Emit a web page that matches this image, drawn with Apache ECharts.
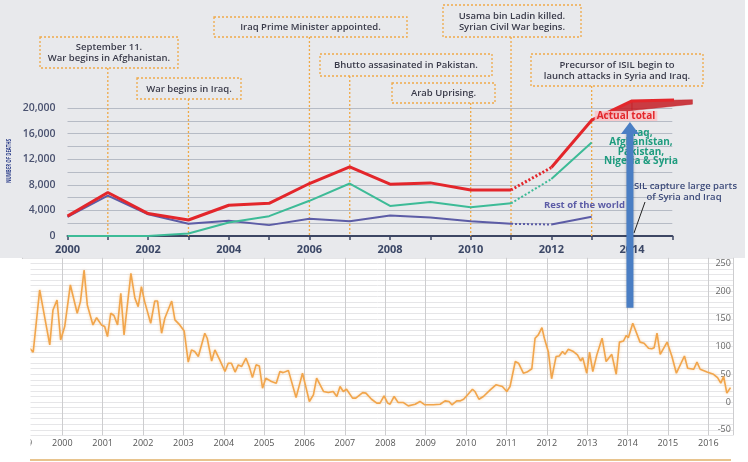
<!DOCTYPE html>
<html>
<head>
<meta charset="utf-8">
<script src="https://cdn.jsdelivr.net/npm/echarts@6/dist/echarts.min.js"></script>
<style>
  html, body { margin: 0; padding: 0; background: #fff; }
  #chart { width: 748px; height: 462px; }
</style>
</head>
<body>
<div id="chart"></div>
<script>
// top panel: deaths per year (number of deaths)
const years = [2000, 2001, 2002, 2003, 2004, 2005, 2006, 2007, 2008, 2009, 2010, 2011, 2012, 2013]
const totalDeaths = [3100, 6800, 3500, 2500, 4800, 5100, 8200, 10800, 8100, 8300, 7200, 7200, 10700, 18100]
const fiveCountries = [0, 0, 0, 400, 2100, 3100, 5500, 8200, 4700, 5300, 4500, 5100, 8900, 14600]
const restOfWorld = [3000, 6300, 3400, 1900, 2400, 1700, 2700, 2300, 3200, 2900, 2300, 1900, 1800, 3000]
// projected part of the total (after 2013)
const tailYears = [2014, 2015.5]
const tailTotal = [21100, 21300]
// shaded wedge under the total
const bandYears = [2013, 2014, 2015.5]
const bandLow = [18100, 19600, 20600]
const bandHigh = [18100, 21100, 21300]
// dotted stretch of every line
const gapFrom = 2011
const gapTo = 2012

// events
const eventYears = [2001, 2003, 2006, 2007, 2010, 2011, 2013]
const eventText = [
  'September 11.\nWar begins in Afghanistan.',
  'War begins in Iraq.',
  'Iraq Prime Minister appointed.',
  'Bhutto assasinated in Pakistan.',
  'Arab Uprising.',
  'Usama bin Ladin killed.\nSyrian Civil War begins.',
  'Precursor of ISIL begin to\nlaunch attacks in Syria and Iraq.'
]

// bottom panel: index over time
const indexDates = [
  1999.19, 1999.28, 1999.44, 1999.69, 1999.77, 1999.87, 1999.96, 2000.06, 2000.20, 2000.37,
  2000.45, 2000.54, 2000.62, 2000.76, 2000.85, 2000.97, 2001.05, 2001.12, 2001.20, 2001.28,
  2001.37, 2001.45, 2001.53, 2001.70, 2001.80, 2001.88, 2001.96, 2002.04, 2002.19, 2002.29,
  2002.36, 2002.46, 2002.54, 2002.71, 2002.79, 2002.91, 2003.02, 2003.12, 2003.20, 2003.28,
  2003.37, 2003.53, 2003.59, 2003.70, 2003.78, 2003.90, 2004.03, 2004.11, 2004.19, 2004.28,
  2004.36, 2004.44, 2004.55, 2004.63, 2004.71, 2004.80, 2004.88, 2004.96, 2005.04, 2005.18,
  2005.30, 2005.39, 2005.47, 2005.60, 2005.79, 2005.95, 2006.12, 2006.22, 2006.30, 2006.47,
  2006.59, 2006.71, 2006.80, 2006.88, 2006.96, 2007.04, 2007.19, 2007.27, 2007.44, 2007.52,
  2007.66, 2007.79, 2007.87, 2007.97, 2008.06, 2008.12, 2008.22, 2008.32, 2008.45, 2008.57,
  2008.74, 2008.86, 2008.98, 2009.19, 2009.36, 2009.48, 2009.58, 2009.65, 2009.77, 2009.85,
  2009.94, 2010.04, 2010.16, 2010.22, 2010.32, 2010.43, 2010.60, 2010.74, 2010.90, 2011.01,
  2011.09, 2011.22, 2011.30, 2011.42, 2011.51, 2011.63, 2011.71, 2011.79, 2011.88, 2011.94,
  2012.04, 2012.12, 2012.23, 2012.31, 2012.39, 2012.45, 2012.53, 2012.66, 2012.76, 2012.84,
  2012.89, 2012.99, 2013.06, 2013.14, 2013.24, 2013.37, 2013.47, 2013.61, 2013.72, 2013.80,
  2013.90, 2013.97, 2014.02, 2014.13, 2014.31, 2014.41, 2014.52, 2014.60, 2014.66, 2014.73,
  2014.81, 2014.98, 2015.10, 2015.21, 2015.41, 2015.49, 2015.64, 2015.72, 2015.80, 2015.97,
  2016.13, 2016.23, 2016.31, 2016.38, 2016.46, 2016.55
]
const indexValues = [
  97, 90, 202, 103, 166, 184, 112, 136, 211, 160,
  181, 238, 175, 139, 152, 139, 136, 118, 160, 156,
  139, 196, 121, 232, 187, 172, 208, 181, 142, 182,
  182, 124, 151, 182, 148, 139, 128, 72, 94, 91,
  82, 124, 115, 74, 94, 76, 55, 70, 70, 54,
  67, 64, 79, 64, 44, 67, 65, 25, 43, 37,
  34, 55, 53, 57, 8, 52, 1, 13, 43, 19,
  17, 19, 10, 28, 19, 23, 7, 7, 17, 16,
  5, -2, -2, 11, -2, -4, 10, -1, -1, -7,
  -4, 1, -5, -5, -4, 2, 1, -5, 2, 2,
  5, 13, 23, 19, 5, 10, 22, 31, 28, 19,
  28, 73, 70, 52, 54, 60, 115, 121, 134, 115,
  90, 42, 82, 83, 91, 86, 95, 91, 85, 74,
  80, 52, 90, 55, 85, 115, 73, 86, 50, 108,
  110, 120, 116, 142, 108, 106, 97, 96, 98, 124,
  86, 108, 82, 52, 83, 61, 59, 72, 59, 54,
  50, 44, 34, 46, 16, 26
]

const FONT = '"Open Sans", "DejaVu Sans", sans-serif'
const RED = '#e3262b'
const GREEN = '#3dbb97'
const PURPLE = '#5c5ca6'

const chart = echarts.init(document.getElementById('chart'))

// solid line with a hole between gapFrom and gapTo
const solidLine = (vals) => {
  const pts = []
  years.forEach((y, i) => {
    if (y === gapTo) pts.push([(gapFrom + gapTo) / 2, '-'])
    pts.push([y, vals[i]])
  })
  return pts
}
const dottedLine = (vals) => [
  [gapFrom, vals[years.indexOf(gapFrom)]],
  [gapTo, vals[years.indexOf(gapTo)]]
]

const topLine = (name, data, color, width, dotted) => ({
  name,
  type: 'line',
  xAxisIndex: 0,
  yAxisIndex: 0,
  data,
  symbol: 'none',
  clip: false,
  silent: true,
  lineStyle: { color, width, type: dotted ? [2, 2] : 'solid' },
  z: 5
})

// one quad per pair of neighbouring band points
const bandData = []
for (let i = 0; i < bandYears.length - 1; i++) {
  bandData.push([bandYears[i], bandLow[i], bandHigh[i], bandYears[i + 1], bandLow[i + 1], bandHigh[i + 1]])
}

const option = {
  animation: false,
  backgroundColor: '#fff',
  textStyle: { fontFamily: FONT },
  grid: [
    { left: 67.5, top: 108, width: 604.8, height: 128 },
    { left: 21.9, top: 257.8, width: 711, height: 177.5 }
  ],
  xAxis: [
    {
      gridIndex: 0,
      type: 'value',
      min: 2000,
      max: 2015,
      interval: 1,
      axisLine: { lineStyle: { color: '#3d4663', width: 2 } },
      axisTick: { show: true, length: 4, lineStyle: { color: '#3d4663', width: 1.5 } },
      splitLine: { show: false },
      axisLabel: {
        margin: 8,
        color: '#3b4766',
        fontSize: 11,
        fontWeight: 'bold',
        fontFamily: FONT,
        formatter: (v) => (Number.isInteger(v) && v % 2 === 0 ? String(v) : '')
      }
    },
    {
      gridIndex: 1,
      type: 'value',
      min: 1999,
      max: 2016.61,
      interval: 1,
      axisLine: { show: false },
      axisTick: { show: false },
      splitLine: { show: true, lineStyle: { color: '#cdcdcf', width: 1 } },
      axisLabel: {
        margin: 4,
        color: '#555',
        fontSize: 9,
        fontFamily: FONT,
        formatter: (v) => (Number.isInteger(v) ? String(v) : '')
      }
    }
  ],
  yAxis: [
    {
      gridIndex: 0,
      type: 'value',
      min: 0,
      max: 20000,
      interval: 2000,
      axisLine: { show: false },
      axisTick: { show: false },
      splitLine: { lineStyle: { color: '#b6bbc5', width: 1.2 } },
      axisLabel: {
        margin: 12,
        color: '#4a5270',
        fontSize: 10.5,
        fontWeight: 600,
        fontFamily: FONT,
        formatter: (v) => (v % 4000 === 0 ? v.toLocaleString('en-US') : '')
      }
    },
    {
      gridIndex: 1,
      type: 'value',
      position: 'right',
      min: -60,
      max: 260,
      interval: 10,
      axisLine: { show: false },
      axisTick: { show: false },
      splitLine: { lineStyle: { color: '#e6e6e8', width: 1 } },
      axisLabel: {
        inside: true,
        margin: 2,
        color: '#666',
        fontSize: 9,
        fontFamily: FONT,
        formatter: (v) => (v % 50 === 0 ? String(v) : '')
      }
    }
  ],
  series: [
    {
      name: 'band',
      type: 'custom',
      xAxisIndex: 0,
      yAxisIndex: 0,
      clip: false,
      silent: true,
      data: bandData,
      encode: { x: [0, 3], y: [1, 2, 4, 5] },
      renderItem: (params, api) => {
        const a = api.coord([api.value(0), api.value(1)])
        const b = api.coord([api.value(0), api.value(2)])
        const c = api.coord([api.value(3), api.value(5)])
        const d = api.coord([api.value(3), api.value(4)])
        return {
          type: 'polygon',
          shape: { points: [a, b, c, d] },
          style: { fill: 'rgba(196,28,36,0.85)', stroke: 'rgba(196,28,36,0.85)', lineWidth: 0.5 }
        }
      },
      z: 3
    },
    topLine('Rest of the world', solidLine(restOfWorld), PURPLE, 2, false),
    topLine('Rest of the world (dotted)', dottedLine(restOfWorld), PURPLE, 2, true),
    topLine('Five countries', solidLine(fiveCountries), GREEN, 2, false),
    topLine('Five countries (dotted)', dottedLine(fiveCountries), GREEN, 2, true),
    topLine('Actual total', solidLine(totalDeaths).concat(tailYears.map((y, i) => [y, tailTotal[i]])), RED, 3, false),
    topLine('Actual total (dotted)', dottedLine(totalDeaths), RED, 3, true),
    {
      name: 'index',
      type: 'line',
      xAxisIndex: 1,
      yAxisIndex: 1,
      data: indexDates.map((d, i) => [d, indexValues[i]]),
      symbol: 'none',
      silent: true,
      lineStyle: {
        color: '#f1a54b',
        width: 1.6,
        shadowBlur: 3,
        shadowColor: 'rgba(241,165,75,0.45)'
      },
      z: 4
    }
  ]
}

chart.setOption(option)

// ---- annotations (placed after the scales exist) ----
const boxes = [
  [40, 37, 138, 31],
  [137, 78, 104, 21],
  [214, 17, 193, 20],
  [320, 54, 172, 22],
  [392, 83, 103, 20],
  [443, 5, 138, 32],
  [531, 54, 172, 32]
]
const axisY = chart.convertToPixel({ gridIndex: 0 }, [2000, 0])[1]

const graphics = [
  // grey panel behind the upper chart
  { type: 'rect', shape: { x: 0, y: 0, width: 745, height: 258 }, style: { fill: '#e8e9ec' }, z: -10, silent: true },
  // white margin on the left of the lower chart
  { type: 'rect', shape: { x: 0, y: 259, width: 30.5, height: 195 }, style: { fill: '#fff' }, z: 50, silent: true },
  // rule under the lower chart
  { type: 'line', shape: { x1: 30, y1: 460, x2: 731, y2: 460 }, style: { stroke: '#e8c48e', lineWidth: 2 }, z: 50, silent: true },
  {
    type: 'text',
    x: 9,
    y: 161,
    rotation: Math.PI / 2,
    scaleX: 0.62,
    style: {
      text: 'NUMBER OF DEATHS',
      fill: '#2d3f8a',
      font: 'bold 7px ' + FONT,
      align: 'center',
      verticalAlign: 'middle'
    },
    silent: true
  }
]

eventYears.forEach((yr, i) => {
  const [bx, by, bw, bh] = boxes[i]
  const px = chart.convertToPixel({ gridIndex: 0 }, [yr, 0])[0]
  graphics.push({
    type: 'line',
    shape: { x1: px, y1: by + bh, x2: px, y2: axisY },
    style: { stroke: '#efa948', lineWidth: 1.3, lineDash: [2, 2] },
    z: 1,
    silent: true
  })
  graphics.push({
    type: 'rect',
    shape: { x: bx, y: by, width: bw, height: bh },
    style: { fill: 'rgba(0,0,0,0)', stroke: '#efa948', lineWidth: 1.3, lineDash: [2, 2] },
    z: 1,
    silent: true
  })
  graphics.push({
    type: 'text',
    x: bx + bw / 2,
    y: by + bh / 2 + 0.5,
    style: {
      text: eventText[i],
      fill: '#3a3b4a',
      font: '600 9.5px ' + FONT,
      align: 'center',
      verticalAlign: 'middle',
      lineHeight: 11
    },
    z: 1,
    silent: true
  })
})

// series labels
graphics.push(
  {
    type: 'text', x: 626, y: 116,
    style: {
      text: 'Actual total', fill: RED, font: 'bold 10px ' + FONT, align: 'center', verticalAlign: 'middle',
      backgroundColor: 'rgba(248,196,200,0.85)', padding: [0, 2]
    },
    z: 20, silent: true
  },
  {
    type: 'text', x: 641, y: 128,
    style: {
      text: 'Iraq,\nAfghanistan,\nPakistan,\nNigeria & Syria',
      fill: '#1f9c7f', font: 'bold 10px ' + FONT, align: 'center', verticalAlign: 'top', lineHeight: 9.6
    },
    z: 20, silent: true
  },
  {
    type: 'text', x: 544, y: 205,
    style: { text: 'Rest of the world', fill: PURPLE, font: 'bold 9.5px ' + FONT, align: 'left', verticalAlign: 'middle' },
    z: 20, silent: true
  },
  {
    type: 'text', x: 684, y: 192,
    style: {
      text: 'ISIL capture large parts\nof Syria and Iraq',
      fill: '#3c4a7a', font: '600 9.5px ' + FONT, align: 'center', verticalAlign: 'middle', lineHeight: 10.5
    },
    z: 20, silent: true
  },
  {
    type: 'line', shape: { x1: 645, y1: 202, x2: 634, y2: 233 },
    style: { stroke: '#222', lineWidth: 1 }, z: 20, silent: true
  }
)

// blue arrow linking 2014 in both charts
const arrowX = chart.convertToPixel({ gridIndex: 1 }, [2014.06, 0])[0]
const tipY = chart.convertToPixel({ gridIndex: 0 }, [2014, 17800])[1]
const tailY = chart.convertToPixel({ gridIndex: 1 }, [2014.06, 170])[1]
graphics.push(
  {
    type: 'rect',
    shape: { x: arrowX - 3.5, y: tipY + 10, width: 7, height: tailY - tipY - 10 },
    style: { fill: '#4a7ec4', shadowBlur: 3, shadowColor: 'rgba(0,0,0,0.25)' },
    z: 100, silent: true
  },
  {
    type: 'polygon',
    shape: { points: [[arrowX - 9, tipY + 12], [arrowX, tipY], [arrowX + 9, tipY + 12]] },
    style: { fill: '#4a7ec4' },
    z: 100, silent: true
  }
)

chart.setOption({ graphic: { elements: graphics } })

window.addEventListener('resize', () => chart.resize())
</script>
</body>
</html>
